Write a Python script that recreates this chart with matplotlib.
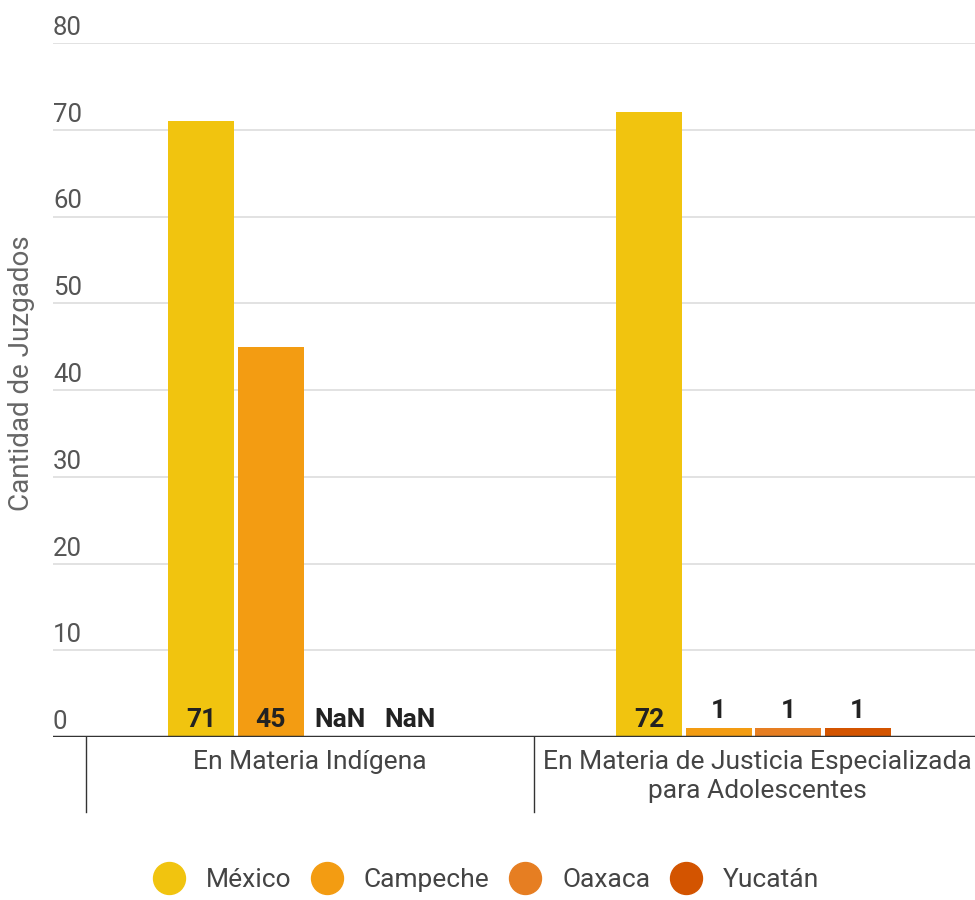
import matplotlib
matplotlib.use("Agg")
import matplotlib.pyplot as plt
import numpy as np
from matplotlib.lines import Line2D
from matplotlib.transforms import blended_transform_factory

plt.rcParams['font.family'] = ['Roboto', 'DejaVu Sans']

# ---- data ----
categories = ["En Materia Indígena",
              "En Materia de Justicia Especializada\npara Adolescentes"]
series = ["México", "Campeche", "Oaxaca", "Yucatán"]
mexico = [71, 72]
campeche = [45, 1]
oaxaca = [np.nan, 1]
yucatan = [np.nan, 1]
values = [mexico, campeche, oaxaca, yucatan]
colors = ["#F1C40F", "#F39C12", "#E67E22", "#D35400"]
yticks = [0, 10, 20, 30, 40, 50, 60, 70, 80]
ylabel = "Cantidad de Juzgados"

# ---- layout (pixels) ----
W, H = 975, 900
px_per_unit = 448.0
cat0_px = 305.5
ax_left_px, ax_right_px = 53, 975
ax_top_px, ax_bot_px = 43, 737
PT = 72 / 100  # points per pixel at dpi 100

fig = plt.figure(figsize=(W / 100, H / 100), dpi=100)
ax = fig.add_axes([ax_left_px / W, (H - ax_bot_px) / H,
                   (ax_right_px - ax_left_px) / W, (ax_bot_px - ax_top_px) / H])
ax.set_xlim((ax_left_px - cat0_px) / px_per_unit, (ax_right_px - cat0_px) / px_per_unit)
ax.set_ylim(0, 80)

slot = 69.5 / px_per_unit
bw = 66 / px_per_unit
x = np.arange(len(categories))
n = len(series)
for j, (name, vals, col) in enumerate(zip(series, values, colors)):
    xs = x + (j - (n - 1) / 2) * slot
    v = np.array(vals, dtype=float)
    ax.bar(xs, np.nan_to_num(v), width=bw, color=col, zorder=2)
    for xi, vi in zip(xs, v):
        if np.isnan(vi):
            txt, ypos = "NaN", 0
        else:
            txt = f"{int(vi)}"
            ypos = vi if vi < 10 else 0
        ax.annotate(txt, xy=(xi, ypos), xytext=(0, 10 * PT), textcoords="offset points",
                    ha="center", va="baseline", fontsize=19, fontweight="bold",
                    color="#222222", zorder=4)

# grid & tick labels
ax.set_yticks(yticks)
ax.set_yticklabels([])
ax.tick_params(axis="both", length=0)
ax.set_xticks([])
ax.grid(axis="y", color="#dddddd", linewidth=1.2, zorder=0)
for s in ax.spines.values():
    s.set_visible(False)
tr = blended_transform_factory(ax.transAxes, ax.transData)
for t in yticks:
    ax.annotate(str(t), xy=(0, t), xycoords=tr, xytext=(0, 8 * PT), textcoords="offset points",
                ha="left", va="baseline", fontsize=18.5, color="#555555")
ax.axhline(0, color="#333333", linewidth=2.5, zorder=3)

# category separators and labels
trx = blended_transform_factory(ax.transData, ax.transAxes)
sep_shift = 4 / px_per_unit
axh = ax_bot_px - ax_top_px
sep_len = 75 / axh
for b in np.arange(len(categories) + 1) - 0.5:
    ax.plot([b + sep_shift, b + sep_shift], [0, -sep_len], transform=trx,
            color="#333333", linewidth=1, clip_on=False)
for i, c in enumerate(categories):
    ax.text(i + sep_shift, -13 / axh, c, transform=trx,
            ha="center", va="top", fontsize=19, color="#444444", linespacing=1.25)

fig.text(22 / W, 1 - 373 / H, ylabel, rotation=90, ha="center", va="center",
         fontsize=20, color="#666666")

handles = [Line2D([], [], marker="o", linestyle="none", markersize=23,
                  markerfacecolor=c, markeredgecolor=c) for c in colors]
fig.legend(handles, series, loc="center", bbox_to_anchor=(486 / W, 1 - 880 / H),
           ncol=4, frameon=False, fontsize=19, handlelength=1.2, handletextpad=0.8,
           columnspacing=0.75, labelcolor="#444444")

fig.savefig("out.png", dpi=100)
